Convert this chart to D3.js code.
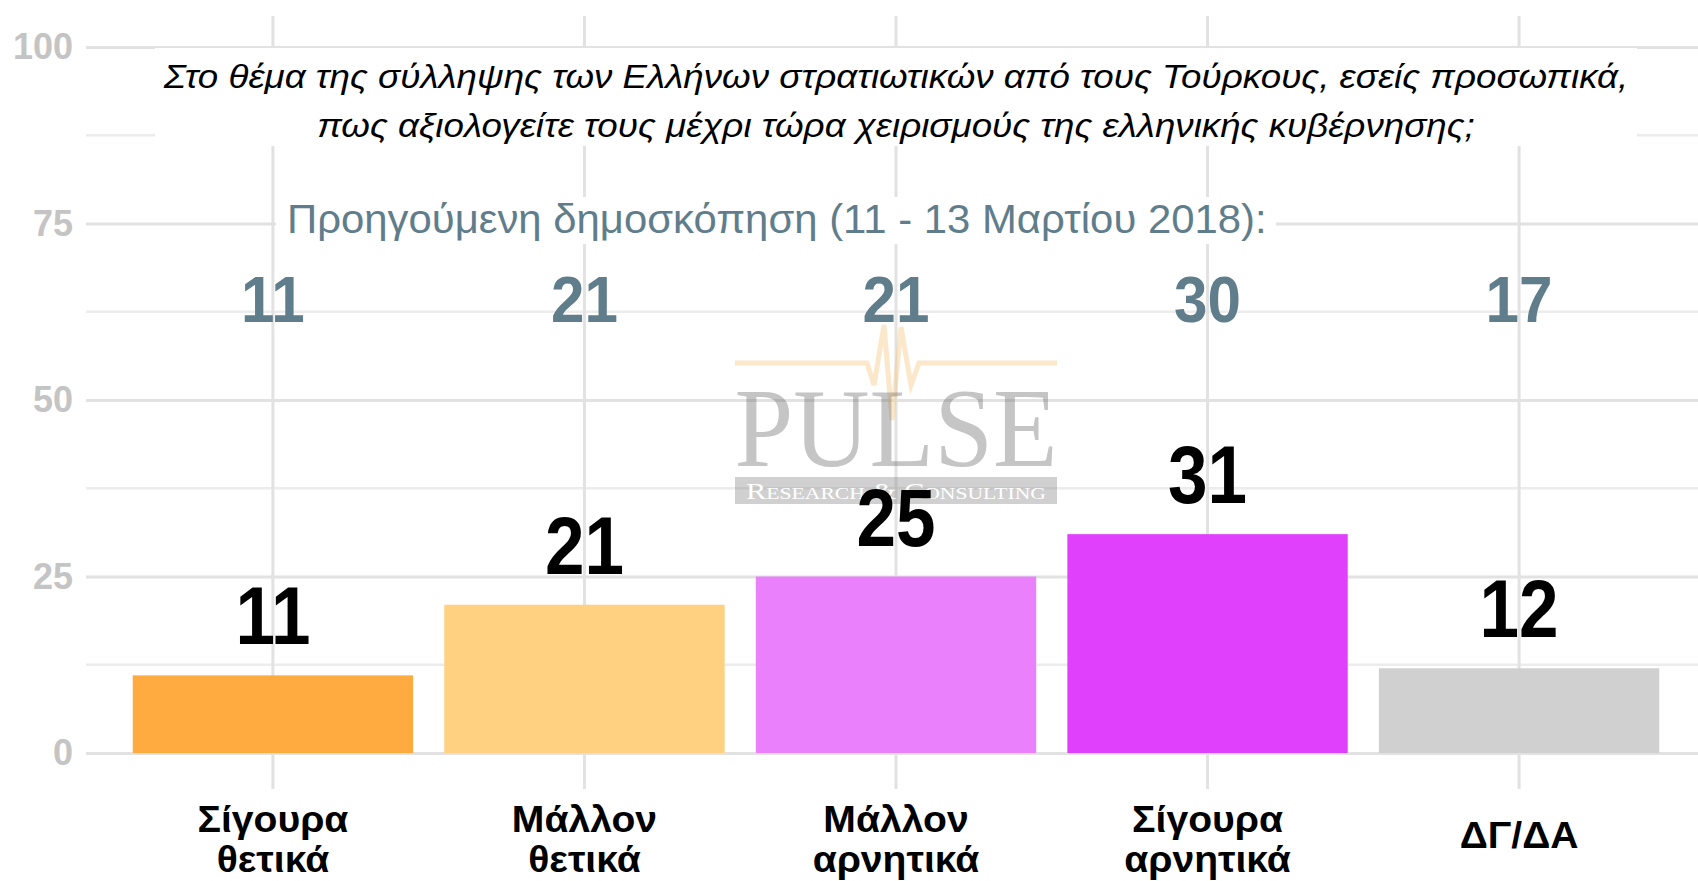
<!DOCTYPE html>
<html>
<head>
<meta charset="utf-8">
<script src="https://cdn.jsdelivr.net/npm/d3@7"></script>
<style>
  html, body { margin: 0; padding: 0; background: #fff; overflow: hidden; }
</style>
</head>
<body>
<div id="chart"></div>
<script>
// ---- data ----
const categories = ["Σίγουρα θετικά", "Μάλλον θετικά", "Μάλλον αρνητικά", "Σίγουρα αρνητικά", "ΔΓ/ΔΑ"];
const categoryLines = [["Σίγουρα", "θετικά"], ["Μάλλον", "θετικά"], ["Μάλλον", "αρνητικά"], ["Σίγουρα", "αρνητικά"], ["ΔΓ/ΔΑ"]];
const currentValues = [11, 21, 25, 31, 12];
const previousValues = [11, 21, 21, 30, 17];
const barColors = ["#FFAB40", "#FFD180", "#EA80FC", "#E040FB", "#D0D0D0"];
const yTicks = [0, 25, 50, 75, 100];
const yMinorTicks = [12.5, 37.5, 62.5, 87.5];
const titleLines = [
  "Στο θέμα της σύλληψης των Ελλήνων στρατιωτικών από τους Τούρκους, εσείς προσωπικά,",
  "πως αξιολογείτε τους μέχρι τώρα χειρισμούς της ελληνικής κυβέρνησης;"
];
const previousHeading = "Προηγούμενη δημοσκόπηση (11 - 13 Μαρτίου 2018):";

window.onload = function () {
  const FONT = "'Liberation Sans', Arial, sans-serif";
  const width = 1698, height = 881;
  const panel = { left: 86, right: 1706, top: 16, bottom: 789 };

  const svg = d3.select("#chart")
    .append("svg")
    .attr("width", width)
    .attr("height", height)
    .style("font-family", FONT)
    .style("background", "#fff");

  const data = categories.map((c, i) => ({
    cat: c, lines: categoryLines[i], cur: currentValues[i], prev: previousValues[i], color: barColors[i]
  }));

  const x = d3.scaleBand().domain(categories).range([panel.left, panel.right])
    .paddingInner(0.1).paddingOuter(0.15);
  const y = d3.scaleLinear().domain([0, 100]).range([753, 47]);
  const cx = (c) => x(c) + x.bandwidth() / 2;

  // squeeze helper: horizontal scale so a text hits a target width
  function fitScale(textNode, target) {
    return target / textNode.getComputedTextLength();
  }

  // ---- grid ----
  svg.append("g")
    .selectAll("line")
    .data(yMinorTicks)
    .enter().append("line")
    .attr("x1", panel.left).attr("x2", width)
    .attr("y1", d => y(d)).attr("y2", d => y(d))
    .attr("stroke", "#ECECEC").attr("stroke-width", 2.5);

  const yGrid = svg.append("g")
    .attr("transform", `translate(${panel.left},0)`)
    .call(d3.axisLeft(y).tickValues(yTicks).tickSize(-(width - panel.left)).tickFormat(""));
  yGrid.select(".domain").remove();
  yGrid.selectAll("line").attr("stroke", "#E2E2E2").attr("stroke-width", 3);

  const xGrid = svg.append("g")
    .attr("transform", `translate(0,${panel.bottom})`)
    .call(d3.axisBottom(x).tickSize(-(panel.bottom - panel.top)).tickFormat(""));
  xGrid.select(".domain").remove();
  xGrid.selectAll("line").attr("stroke", "#E2E2E2").attr("stroke-width", 3);

  // ---- bars ----
  svg.append("g")
    .selectAll("rect")
    .data(data)
    .enter().append("rect")
    .attr("x", d => x(d.cat))
    .attr("y", d => y(d.cur))
    .attr("width", x.bandwidth())
    .attr("height", d => y(0) - y(d.cur))
    .attr("fill", d => d.color);

  // ---- watermark ----
  const wm = svg.append("g")
    .attr("transform", `translate(${cx(categories[2])},0)`);
  wm.append("polyline")
    .attr("points", [[-161, 363], [-29, 363], [-22, 385], [-12, 325], [-4, 420], [5, 327], [15, 385], [23, 363], [161, 363]].join(" "))
    .attr("fill", "none")
    .attr("stroke", "#F7C98A")
    .attr("stroke-opacity", 0.45)
    .attr("stroke-width", 5);
  wm.append("text")
    .attr("x", 0).attr("y", 466)
    .attr("text-anchor", "middle")
    .style("font-family", "'Liberation Serif', 'Times New Roman', serif")
    .style("font-size", "113px")
    .attr("fill", "#6f6f6f")
    .attr("fill-opacity", 0.4)
    .attr("textLength", 323).attr("lengthAdjust", "spacingAndGlyphs")
    .text("PULSE");
  wm.append("rect")
    .attr("x", -161).attr("y", 477).attr("width", 322).attr("height", 27)
    .attr("fill", "#8a8a8a").attr("fill-opacity", 0.4);
  wm.append("text")
    .attr("x", 0).attr("y", 499)
    .attr("text-anchor", "middle")
    .style("font-family", "'Liberation Serif', 'Times New Roman', serif")
    .style("font-size", "24px")
    .style("font-variant", "small-caps")
    .attr("fill", "#fff")
    .attr("textLength", 300).attr("lengthAdjust", "spacingAndGlyphs")
    .text("Research & Consulting");

  // ---- y axis labels ----
  const yAxis = svg.append("g")
    .attr("transform", `translate(${panel.left},0)`)
    .call(d3.axisLeft(y).tickValues(yTicks).tickSize(0).tickPadding(13));
  yAxis.select(".domain").remove();
  yAxis.selectAll("text")
    .style("font-family", FONT)
    .style("font-size", "36px")
    .style("font-weight", "bold")
    .attr("fill", "#C4C4C4");

  // ---- x axis labels ----
  const xLab = svg.append("g").selectAll("text")
    .data(data)
    .enter().append("text")
    .attr("text-anchor", "middle")
    .style("font-size", "37px")
    .style("font-weight", "bold")
    .attr("fill", "#000");
  xLab.each(function (d) {
    const t = d3.select(this);
    if (d.lines.length === 1) {
      t.append("tspan").attr("x", 0).attr("y", 0).text(d.lines[0]);
    } else {
      d.lines.forEach((l, i) => t.append("tspan").attr("x", 0).attr("y", -19 + i * 40).text(l));
    }
  });
  const xs = fitScale(xLab.filter((d, i) => i === 0).select("tspan").node(), 151);
  xLab.attr("transform", d => `translate(${cx(d.cat)},${d.lines.length === 1 ? 848 : 851}) scale(${xs},1)`);

  // ---- value labels (current) ----
  const valLab = svg.append("g").selectAll("text")
    .data(data)
    .enter().append("text")
    .attr("text-anchor", "middle")
    .style("font-size", "81px")
    .style("font-weight", "bold")
    .attr("fill", "#000")
    .text(d => d.cur);
  const vs = fitScale(valLab.filter(d => d.cur === 31).node(), 79);
  valLab.attr("transform", d => `translate(${cx(d.cat)},${y(d.cur) - 31}) scale(${vs},1)`);

  // ---- previous poll heading ----
  const headX = cx(categories[0]) + 14, headY = 233;
  const headBox = svg.append("rect").attr("fill", "#fff");
  const head = svg.append("text")
    .attr("text-anchor", "start")
    .style("font-size", "40px")
    .attr("fill", "#607D8B")
    .text(previousHeading);
  const hs = fitScale(head.node(), 980);
  head.attr("transform", `translate(${headX},${headY}) scale(${hs},1)`);
  headBox.attr("x", headX - 11).attr("y", headY - 36)
    .attr("width", 980 + 20).attr("height", 47);

  // ---- previous values ----
  const prevLab = svg.append("g").selectAll("text")
    .data(data)
    .enter().append("text")
    .attr("text-anchor", "middle")
    .style("font-size", "65px")
    .style("font-weight", "bold")
    .attr("fill", "#607D8B")
    .text(d => d.prev);
  const ps = fitScale(prevLab.filter(d => d.prev === 30).node(), 67);
  prevLab.attr("transform", d => `translate(${cx(d.cat)},322) scale(${ps},1)`);

  // ---- question title ----
  const titleCx = cx(categories[2]);
  const titleBox = svg.append("rect").attr("fill", "#fff");
  const title = svg.append("g").selectAll("text")
    .data(titleLines)
    .enter().append("text")
    .attr("text-anchor", "middle")
    .style("font-size", "34px")
    .style("font-style", "italic")
    .attr("fill", "#000")
    .text(d => d);
  const ts = fitScale(title.node(), 1465);
  title.attr("transform", (d, i) => `translate(${titleCx},${88 + i * 49}) scale(${ts},1)`);
  titleBox.attr("x", titleCx - 741).attr("y", 48).attr("width", 1482).attr("height", 98);
};
</script>
</body>
</html>
